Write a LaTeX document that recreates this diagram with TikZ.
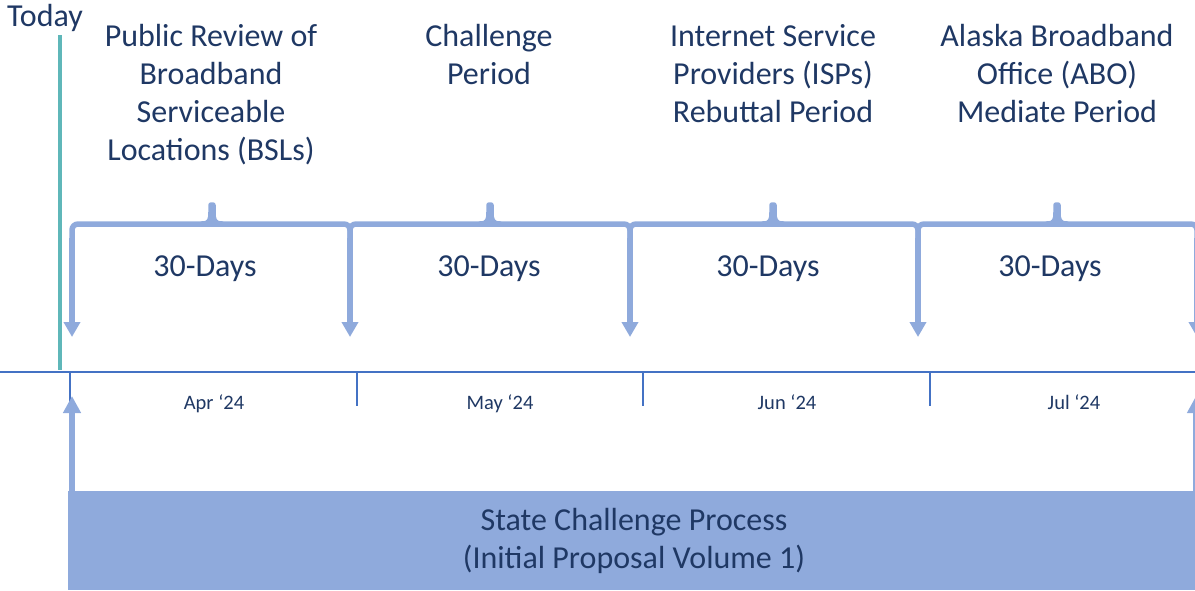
\documentclass[tikz,border=0pt]{standalone}
\usepackage{fontspec}
\setmainfont{Carlito}
\usetikzlibrary{arrows.meta}
\usepackage{xcolor}

\definecolor{navy}{HTML}{1F3864}
\definecolor{braceblue}{HTML}{8FAADC}
\definecolor{axisblue}{HTML}{4472C4}
\definecolor{todayteal}{HTML}{5FB7B9}

\tikzset{
  phase/.style={anchor=north, align=center, text=navy, inner sep=0pt, font=\fontsize{32}{38}\selectfont},
  days/.style={anchor=base, text=navy, inner sep=0pt, font=\fontsize{32}{38}\selectfont},
  month/.style={anchor=base, text=navy, inner sep=0pt, font=\fontsize{20.5}{24}\selectfont},
  braceline/.style={draw=braceblue, line width=5.5pt, rounded corners=6pt},
  leg arrow/.style={draw=braceblue, line width=5.5pt, -{Triangle[width=16pt,length=15pt]}},
  start arrow/.style={draw=braceblue, line width=6pt, -{Triangle[width=17pt,length=17pt]}},
  axisline/.style={draw=axisblue, line width=2.5pt},
}

\begin{document}
\begin{tikzpicture}[x=1pt, y=-1pt, >=Triangle]
\useasboundingbox (0,0) rectangle (1195,590);

% Today marker
\node[days] (today) at (45,26) {Today};
\coordinate (now-top) at (60,35);
\coordinate (now-bot) at (60,370);
\draw[todayteal, line width=4.5pt] (now-top) -- (now-bot);

% Time axis and month ticks
\coordinate (axis-l) at (0,372);
\coordinate (axis-r) at (1195,372);
\draw[axisline] (axis-l) -- (axis-r);
\foreach \x [count=\i] in {70,357,643,930}
  \draw[axisline, line width=1.6pt] (\x,372) -- (\x,406);

% Month labels
\foreach \m/\x [count=\i] in {Apr/214,May/500,Jun/787,Jul/1074}
  \node[month] (month-\i) at (\x,409) {\m~‘24};

% Braces over each 30 day period
\foreach \l/\m/\r [count=\i] in {72/212/350, 350/490/630, 630/773/918, 918/1057/1197} {
  \draw[braceline] (\l,245) -- (\l,224) -- (\r,224) -- (\r,245);
  \draw[braceline, rounded corners=0pt, line cap=round]
    (\m-10,224) .. controls (\m-2,224) and (\m-1,220) .. (\m-1,212) -- (\m-1,205);
  \draw[braceline, rounded corners=0pt, line cap=round]
    (\m+10,224) .. controls (\m+2,224) and (\m+1,220) .. (\m+1,212) -- (\m+1,205);
}

% Arrows down to the axis
\foreach \x [count=\i] in {72,350,630,918,1197} {
  \coordinate (leg-\i) at (\x,238);
  \coordinate (tip-\i) at (\x,337);
  \draw[leg arrow] (leg-\i) -- (tip-\i);
}

% Period lengths
\foreach \x [count=\i] in {205,489,768,1050}
  \node[days] (days-\i) at (\x,276) {30-Days};

% Phase titles
\node[phase] (phase-1) at (211,24) {Public Review of\\Broadband\\Serviceable\\Locations (BSLs)};
\node[phase] (phase-2) at (489,24) {Challenge\\Period};
\node[phase] (phase-3) at (773,24) {Internet Service\\Providers (ISPs)\\Rebuttal Period};
\node[phase] (phase-4) at (1057,24) {Alaska Broadband\\Office (ABO)\\Mediate Period};

% Overall process bar
\node[fill=braceblue, minimum width=1132pt, minimum height=99pt, inner sep=0pt,
      align=center, text=navy, font=\fontsize{32}{38}\selectfont]
  (bar) at (634,540.5) {State Challenge Process\\(Initial Proposal Volume 1)};

% Arrows up from the bar
\foreach \x [count=\i] in {72,1196} {
  \coordinate (bar-\i) at (\x,492);
  \coordinate (start-\i) at (\x,396);
  \draw[start arrow] (bar-\i) -- (start-\i);
}

\end{tikzpicture}
\end{document}
